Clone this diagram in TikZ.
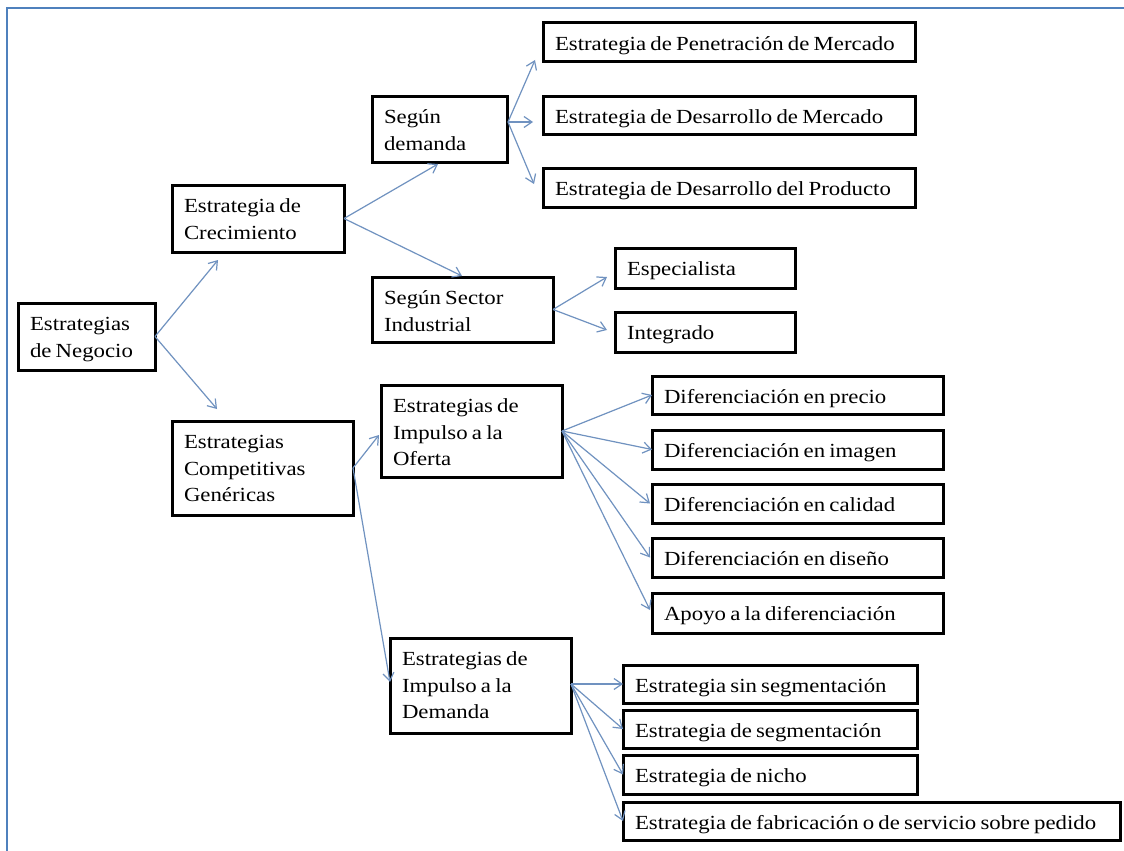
\documentclass[tikz,border=0pt]{standalone}
\usepackage{fontspec}
\setmainfont{Liberation Serif}[FakeStretch=1.14]
\usetikzlibrary{arrows.meta,calc}
\definecolor{frameblue}{RGB}{79,129,189}
\definecolor{linkblue}{RGB}{112,146,192}
% tight word spaces inside the boxes
\newcommand{\tightspaces}{\spaceskip=4.2pt plus 1pt minus 1pt\relax}
\tikzset{
  % rectangular box: text is top-aligned, first baseline 27.5pt below the top edge
  bx/.style 2 args={draw=black, line width=3pt, rectangle, anchor=north west,
    inner xsep=12pt, inner ysep=0pt, outer sep=0pt, align=left,
    text width=#1pt, text height=27.5pt, text depth=#2pt,
    font=\fontsize{20}{26.5}\selectfont,
    execute at begin node=\tightspaces},
  link/.style={draw=linkblue, line width=1.2pt,
    -{Straight Barb[length=8pt,width=11pt]}},
  frameline/.style={draw=frameblue, line width=2.5pt},
}
\begin{document}
\begin{tikzpicture}[x=1pt,y=-1pt]
\useasboundingbox (0,0) rectangle (1124,851);
\fill[white] (0,0) rectangle (1124,851);
\draw[frameline] (7,851) -- (7,8) -- (1124,8);

% level 0
\node[bx={113}{39.5}] (neg) at (18,303) {Estrategias\\de Negocio};

% level 1
\node[bx={148}{39.5}] (crec) at (172,185) {Estrategia de\\Crecimiento};
\node[bx={157}{66.5}] (comp) at (172,421) {Estrategias\\Competitivas\\Genéricas};

% growth branch
\node[bx={111}{38.5}] (sd) at (372,96) {Según\\demanda};
\node[bx={157}{37.5}] (ss) at (372,277) {Según Sector\\Industrial};
\node[bx={348}{11.5}] (pen) at (543,23) {Estrategia de Penetración de Mercado};
\node[bx={348}{10.5}] (desm) at (543,96) {Estrategia de Desarrollo de Mercado};
\node[bx={348}{11.5}] (prod) at (543,168) {Estrategia de Desarrollo del Producto};
\node[bx={156}{12.5}] (esp) at (615,248) {Especialista};
\node[bx={156}{12.5}] (int) at (615,312) {Integrado};

% competitive branch
\node[bx={157}{64.5}] (ofe) at (381,385) {Estrategias de\\Impulso a la\\Oferta};
\node[bx={157}{67.5}] (dmd) at (390,638) {Estrategias de\\Impulso a la\\Demanda};
\node[bx={267}{10.5}] (pre) at (652,376) {Diferenciación en precio};
\node[bx={267}{11.5}] (img) at (652,430) {Diferenciación en imagen};
\node[bx={267}{11.5}] (cal) at (652,484) {Diferenciación en calidad};
\node[bx={267}{11.5}] (dis) at (652,538) {Diferenciación en diseño};
\node[bx={267}{12.5}] (apo) at (652,593) {Apoyo a la diferenciación};
\node[bx={270}{10.5}] (sin) at (623,665) {Estrategia sin segmentación};
\node[bx={270}{10.5}] (seg) at (623,710) {Estrategia de segmentación};
\node[bx={270}{11.5}] (nic) at (623,755) {Estrategia de nicho};
\node[bx={473}{10.5}] (fab) at (623,802) {Estrategia de fabricación o de servicio sobre pedido};

% connectors
\draw[link] (neg.east) -- ($(crec.south west)+(46,8)$);
\draw[link] (neg.east) -- ($(comp.north west)+(45,-12)$);

\draw[link] (crec.east) -- ($(sd.south west)+(66,2)$);
\draw[link] (crec.east) -- ($(ss.north west)+(90,-1)$);

\draw[link] ($(sd.east)+(1,-7)$) -- ($(pen.south west)+(-8,-2)$);
\draw[link] ($(sd.east)+(1,-7)$) -- ($(desm.west)+(-10,7)$);
\draw[link] ($(sd.east)+(1,-7)$) -- ($(prod.west)+(-9,-3.5)$);

\draw[link] (ss.east) -- ($(esp.west)+(-8,9)$);
\draw[link] (ss.east) -- ($(int.west)+(-8,-2)$);

\draw[link] (comp.east) -- ($(ofe.west)+(-2,4)$);
\draw[link] (comp.east) -- ($(dmd.west)+(0,-3.5)$);

\draw[link] (ofe.east) -- (pre.west);
\draw[link] (ofe.east) -- (img.west);
\draw[link] (ofe.east) -- ($(cal.west)+(-2,0)$);
\draw[link] (ofe.east) -- ($(dis.west)+(-2,0)$);
\draw[link] (ofe.east) -- ($(apo.west)+(-2,-3)$);

\draw[link] ($(dmd.east)+(0,-1.5)$) -- (sin.west);
\draw[link] ($(dmd.east)+(0,-1.5)$) -- (seg.west);
\draw[link] ($(dmd.east)+(0,-1.5)$) -- (nic.west);
\draw[link] ($(dmd.east)+(0,-1.5)$) -- (fab.west);
\end{tikzpicture}
\end{document}
